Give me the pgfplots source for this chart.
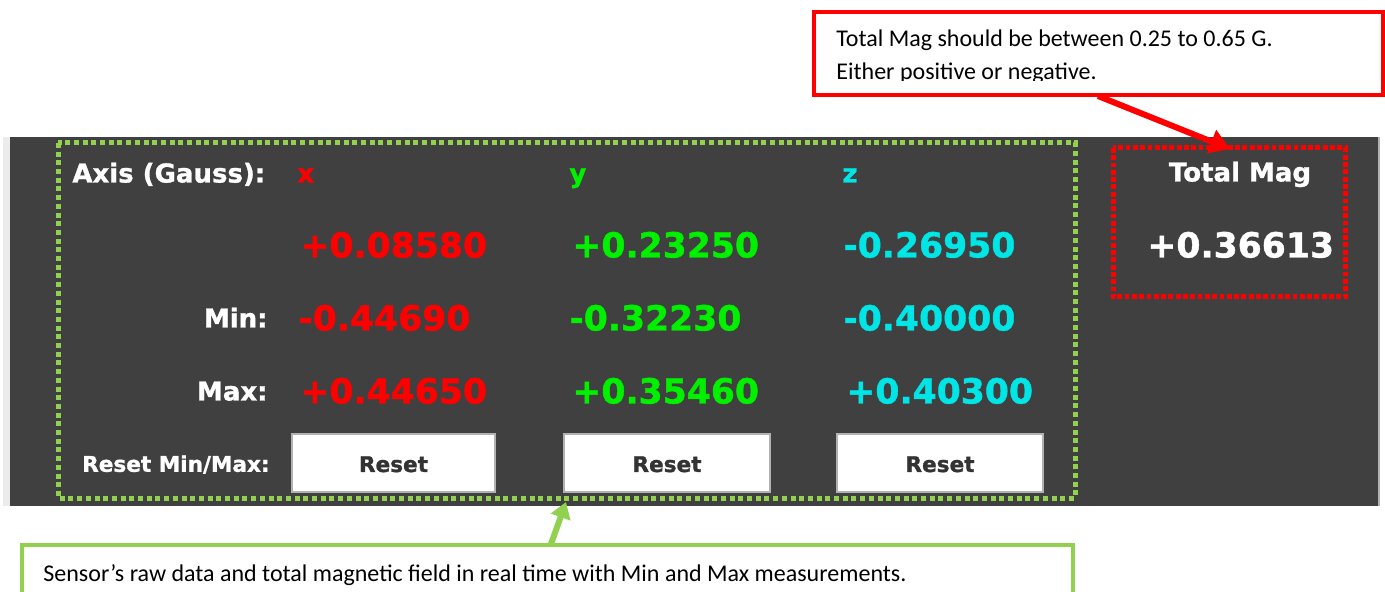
\documentclass[border=0pt]{standalone}
\usepackage{pgfplots}
\pgfplotsset{compat=1.18}
\usepackage{pgfplotstable}
\usepackage{fontspec}
\setmainfont{DejaVu Sans}[BoldFeatures={FakeBold=1.2}]
\newfontfamily\calib{Carlito}
\usetikzlibrary{arrows.meta}

\definecolor{panel}{HTML}{404040}
\definecolor{dotgreen}{HTML}{92D050}
\definecolor{xred}{HTML}{FF0000}
\definecolor{ygreen}{HTML}{00F000}
\definecolor{zcyan}{HTML}{00E5E5}
\definecolor{btntext}{HTML}{333333}

% readings in Gauss: now / min / max for each axis (px, py = screen position)
\pgfplotstableread{
px  py    val
300 257.5 +0.08580
298 330.5 -0.44690
300 403.5 +0.44650
}\xdata
\pgfplotstableread{
px  py    val
572 257.5 +0.23250
569 330.5 -0.32230
572 403.5 +0.35460
}\ydata
\pgfplotstableread{
px  py    val
843 257.5 -0.26950
843 330.5 -0.40000
846 403.5 +0.40300
}\zdata
\pgfplotstableread{
px   py    val
1147 257.5 +0.36613
}\totdata

\newcommand\lab{\fontsize{13}{15}\selectfont\bfseries}
\newcommand\sml{\fontsize{10.8}{13}\selectfont\bfseries}

\pgfplotsset{
  readout/.style={draw=none, mark=none, nodes near coords,
    point meta=explicit symbolic,
    every node near coord/.append style={anchor=base west, inner sep=0pt,
      font=\fontsize{17.3}{20}\selectfont\bfseries, text=#1}},
}

\begin{document}
\begin{tikzpicture}[every node/.style={inner sep=0pt}]
\useasboundingbox (0,0) rectangle (692.5pt,296pt);
\begin{axis}[
  at={(0,0)}, anchor=south west,
  scale only axis, width=692.5pt, height=296pt,
  xmin=0, xmax=1385, ymin=0, ymax=592, y dir=reverse,
  hide axis, clip=false,
]
  % panel
  \fill[gray!15] (axis cs:3,137) rectangle (axis cs:10,506);
  \fill[panel] (axis cs:10,137) rectangle (axis cs:1378,506);
  \fill[gray!60] (axis cs:1378,137) rectangle (axis cs:1380,506);

  % buttons
  \filldraw[fill=white, draw=gray!60, line width=0.6pt] (axis cs:292,434) rectangle (axis cs:495,492);
  \filldraw[fill=white, draw=gray!60, line width=0.6pt] (axis cs:564,434) rectangle (axis cs:770,492);
  \filldraw[fill=white, draw=gray!60, line width=0.6pt] (axis cs:837,434) rectangle (axis cs:1043,492);
  \node[anchor=base, text=btntext, font=\sml] at (axis cs:393.5,472) {Reset};
  \node[anchor=base, text=btntext, font=\sml] at (axis cs:667,472) {Reset};
  \node[anchor=base, text=btntext, font=\sml] at (axis cs:940,472) {Reset};

  % labels
  \node[anchor=base west, text=white, font=\lab] at (axis cs:72,182.5) {Axis (Gauss):};
  \node[anchor=base west, text=xred, font=\lab] at (axis cs:297,182.5) {x};
  \node[anchor=base west, text=ygreen, font=\lab] at (axis cs:569,182.5) {y};
  \node[anchor=base west, text=zcyan, font=\lab] at (axis cs:842,182.5) {z};
  \node[anchor=base east, text=white, font=\lab] at (axis cs:268,327.5) {Min:};
  \node[anchor=base east, text=white, font=\lab] at (axis cs:268,400.5) {Max:};
  \node[anchor=base east, text=white, font=\sml] at (axis cs:270,471.8) {Reset Min/Max:};
  \node[anchor=base, text=white, font=\lab] at (axis cs:1240,181.5) {Total Mag};

  % readings
  \addplot[readout=xred] table[x=px, y=py, meta=val] {\xdata};
  \addplot[readout=ygreen] table[x=px, y=py, meta=val] {\ydata};
  \addplot[readout=zcyan] table[x=px, y=py, meta=val] {\zdata};
  \addplot[readout=white] table[x=px, y=py, meta=val] {\totdata};

  % dotted frames
  \draw[dotgreen, line width=2.5pt, dash pattern=on 2.5pt off 1.85pt] (axis cs:58,143) rectangle (axis cs:1075,498);
  \draw[xred, line width=2.5pt, dash pattern=on 2.4pt off 1.25pt] (axis cs:1113,148) rectangle (axis cs:1345,297);

  % red callout
  \fill[white] (axis cs:814,12) rectangle (axis cs:1383,95);
  \node[anchor=base west, font=\calib\fontsize{12}{14}\selectfont] at (axis cs:836,47) {Total Mag should be between 0.25 to 0.65 G.};
  \node[anchor=base west, font=\calib\fontsize{12}{14}\selectfont] at (axis cs:836,79.5) {Either positive or negative.};
  \fill[white] (axis cs:816,81) rectangle (axis cs:1381,93);
  \draw[xred, line width=2pt] (axis cs:814,12) rectangle (axis cs:1383,95);
  \draw[xred, line width=3pt, -{Triangle[length=10pt,width=12pt]}] (axis cs:1098,96) -- (axis cs:1230,149);

  % green callout
  \fill[white] (axis cs:22,545) rectangle (axis cs:1073,600);
  \draw[dotgreen, line width=2pt] (axis cs:22,545) rectangle (axis cs:1073,600);
  \node[anchor=base west, font=\calib\fontsize{12}{14}\selectfont] at (axis cs:43,581) {Sensor’s raw data and total magnetic field in real time with Min and Max measurements.};
  \draw[dotgreen, line width=3pt, -{Triangle[length=8pt,width=10pt]}] (axis cs:551,544) -- (axis cs:566,502);
\end{axis}
\end{tikzpicture}
\end{document}
